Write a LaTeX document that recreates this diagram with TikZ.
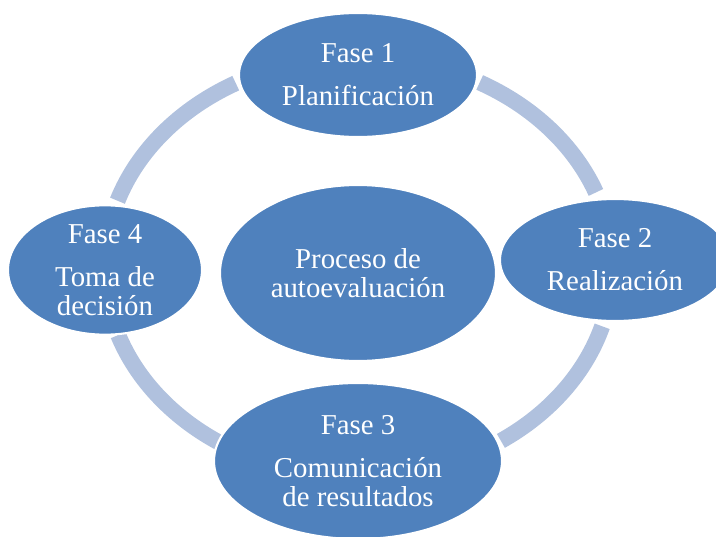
\documentclass[tikz,border=0pt]{standalone}
\usepackage{fontspec}
\setmainfont{Liberation Serif}
\usetikzlibrary{shapes.geometric}
\definecolor{azulfase}{RGB}{79,129,189}
\definecolor{azulbanda}{RGB}{176,193,222}
\tikzset{
    fase/.style={ellipse, fill=azulfase, draw=white, line width=1.2pt, text=white,
        align=center, inner sep=0pt, font=\fontsize{16.4}{16.7}\selectfont},
    banda/.style={draw=azulbanda, line width=0.32cm},
}
\begin{document}
\begin{tikzpicture}
\useasboundingbox (0,0) rectangle (14.32,-10.74);

% ring begin
\coordinate (anillo) at (7.17,-5.34);
\draw[banda] ([shift={(118.9:5.08cm and 4.2cm)}]anillo) arc[start angle=118.9, end angle=161.6, x radius=5.08cm, y radius=4.2cm];
\draw[banda] ([shift={(198.9:5.08cm and 4.2cm)}]anillo) arc[start angle=198.9, end angle=236.5, x radius=5.08cm, y radius=4.2cm];
\draw[banda] ([shift={(-55.9:5.08cm and 4.2cm)}]anillo) arc[start angle=-55.9, end angle=-16.4, x radius=5.08cm, y radius=4.2cm];
\draw[banda] ([shift={(20.8:5.08cm and 4.2cm)}]anillo) arc[start angle=20.8, end angle=61.5, x radius=5.08cm, y radius=4.2cm];
% ring end

\node[fase, minimum width=5.52cm, minimum height=3.52cm] (proceso) at (7.16,-5.46) {Proceso de\\autoevaluación};

\node[fase, minimum width=4.76cm, minimum height=2.48cm] (fase1) at (7.16,-1.50) {Fase 1\\[7.7pt]Planificación};
\node[fase, minimum width=4.60cm, minimum height=2.44cm] (fase2) at (12.30,-5.20) {Fase 2\\[7.7pt]Realización};
\node[fase, minimum width=5.76cm, minimum height=3.12cm] (fase3) at (7.16,-9.22) {Fase 3\\[7.7pt]Comunicación\\de resultados};
\node[fase, minimum width=3.88cm, minimum height=2.48cm] (fase4) at (2.10,-5.40) {Fase 4\\[7.7pt]Toma de\\decisión};

\end{tikzpicture}
\end{document}
